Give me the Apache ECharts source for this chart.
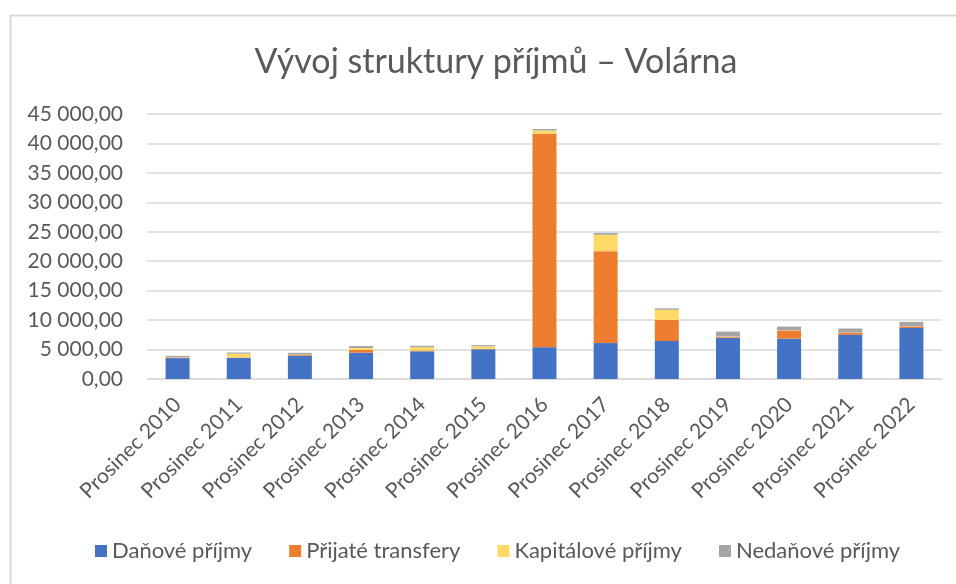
<!DOCTYPE html>
<html>
<head>
<meta charset="utf-8">
<script src="https://cdn.jsdelivr.net/npm/echarts@6/dist/echarts.min.js"></script>
<style>
html, body { margin: 0; padding: 0; background: #fff; }
#chart { width: 956px; height: 584px; }
</style>
</head>
<body>
<div id="chart"></div>
<script>
// kategorie (roky)
var categories = ['Prosinec 2010', 'Prosinec 2011', 'Prosinec 2012', 'Prosinec 2013', 'Prosinec 2014',
	'Prosinec 2015', 'Prosinec 2016', 'Prosinec 2017', 'Prosinec 2018', 'Prosinec 2019',
	'Prosinec 2020', 'Prosinec 2021', 'Prosinec 2022'];
var seriesNames = ['Daňové příjmy', 'Přijaté transfery', 'Kapitálové příjmy', 'Nedaňové příjmy'];
// hodnoty
var danove = [3550, 3600, 3950, 4470, 4700, 5050, 5400, 6100, 6450, 6950, 6850, 7500, 8650];
var transfery = [80, 50, 150, 450, 150, 100, 36250, 15600, 3600, 150, 1400, 350, 250];
var kapitalove = [50, 650, 50, 350, 550, 400, 550, 2800, 1700, 100, 50, 30, 20];
var nedanove = [250, 200, 300, 330, 250, 200, 250, 300, 250, 850, 600, 700, 780];
var colors = ['#4472C4', '#ED7D31', '#FFD966', '#A5A5A5'];
var yMin = 0, yMax = 45000, yStep = 5000;

var font = 'Lato, "Noto Sans", sans-serif';

function fmt(v) {
	var s = Math.round(v).toString().replace(/\B(?=(\d{3})+(?!\d))/g, ' ');
	return s + ',00';
}

var dataList = [danove, transfery, kapitalove, nedanove];
var series = [];
for (var i = 0; i < dataList.length; i++) {
	series.push({
		name: seriesNames[i],
		type: 'bar',
		stack: 'prijmy',
		barWidth: 24,
		itemStyle: { color: colors[i] },
		data: dataList[i]
	});
}

var myChart = echarts.init(document.getElementById('chart'));
var option = {
	animation: false,
	textStyle: { fontFamily: font },
	graphic: [{
		type: 'rect',
		shape: { x: 10.5, y: 15.5, width: 1000, height: 1000 },
		style: { fill: 'none', stroke: '#d9d9d9', lineWidth: 2 },
		silent: true
	}],
	title: {
		text: 'Vývoj struktury příjmů – Volárna',
		left: 491,
		textAlign: 'center',
		top: 40,
		textStyle: { color: '#595959', fontSize: 34, fontWeight: 'normal', fontFamily: font }
	},
	legend: {
		bottom: 17,
		left: 90,
		itemWidth: 12,
		itemHeight: 12,
		itemGap: 37,
		icon: 'rect',
		data: seriesNames,
		textStyle: { color: '#595959', fontSize: 22, fontFamily: font }
	},
	grid: { left: 147, right: 14, top: 114, bottom: 205, containLabel: false },
	xAxis: {
		type: 'category',
		data: categories,
		axisLine: { lineStyle: { color: '#d9d9d9', width: 1.5 } },
		axisTick: { show: false },
		axisLabel: { rotate: 45, margin: 22, color: '#595959', fontSize: 21, fontFamily: font, interval: 0 }
	},
	yAxis: {
		type: 'value',
		min: yMin,
		max: yMax,
		interval: yStep,
		axisLine: { show: false },
		axisTick: { show: false },
		splitLine: { lineStyle: { color: '#d9d9d9', width: 1.5 } },
		axisLabel: { margin: 24, color: '#595959', fontSize: 21, fontFamily: font, formatter: fmt }
	},
	series: series
};
myChart.setOption(option);
</script>
</body>
</html>
